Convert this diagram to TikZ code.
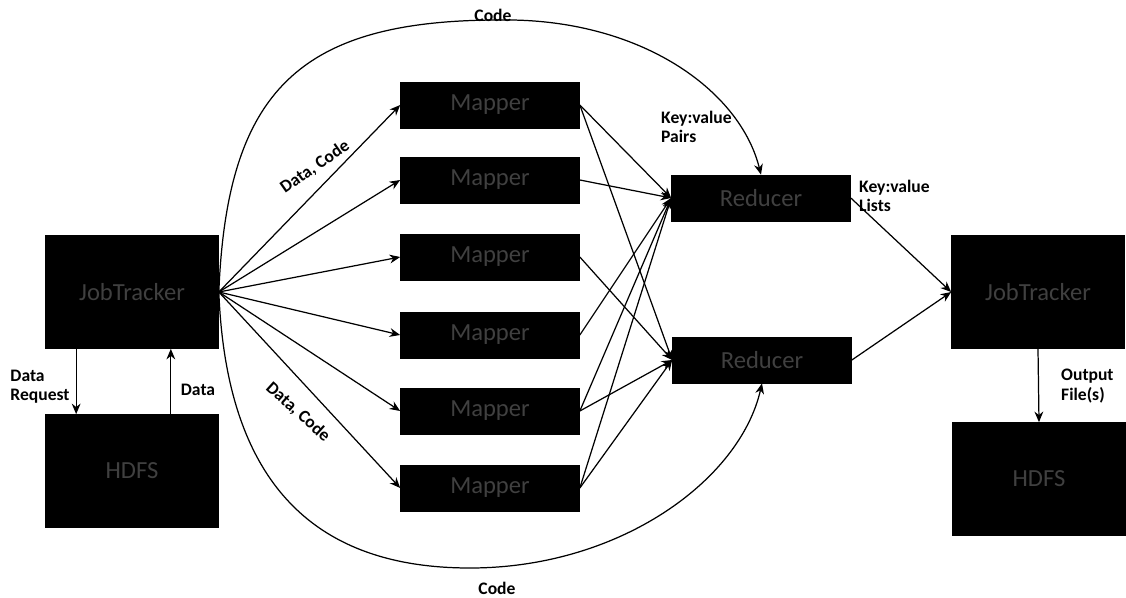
\documentclass[tikz,border=0pt]{standalone}
\usepackage{fontspec}
\setmainfont{Carlito}
\usetikzlibrary{arrows.meta}

\begin{document}
\begin{tikzpicture}[x=0.02cm, y=-0.02cm,
  every node/.style = {font=\bfseries\fontsize{10}{11}\selectfont, align=left},
  block/.style = {rectangle, fill=black, draw=black, text=black!75,
    font=\fontsize{14}{16}\selectfont, align=center},
  bigbox/.style = {block, minimum width=3.46cm, minimum height=2.26cm},
  mapbox/.style = {block, minimum width=3.58cm, minimum height=0.92cm},
  flow/.style = {-{Stealth[length=6pt,width=5pt]}, line width=0.7pt}]
  \useasboundingbox (0,0) rectangle (1126,598);

  \node[bigbox] (jt1) at (132,292) {JobTracker};
  \node[bigbox] (hdfsa) at (132,471) {HDFS};
  \node[bigbox] (jt2) at (1038,292) {JobTracker};
  \node[bigbox] (hdfsb) at (1039,479) {HDFS};
  \foreach \y [count=\i] in {105,180,257,335,411,488}
    \node[mapbox] (m\i) at (490,\y) {Mapper};
  \node[mapbox] (r1) at (761,198) {Reducer};
  \node[mapbox] (r2) at (762,360) {Reducer};

  \draw[flow] ([xshift=0.62cm]jt1.south west) -- ([xshift=0.62cm]hdfsa.north west);
  \draw[flow] ([xshift=-0.96cm]hdfsa.north east) -- ([xshift=-0.96cm]jt1.south east);
  \node at (40,387) {Data\\Request};
  \node at (198,390) {Data};

  \foreach \i in {1,...,6}
    \draw[flow] (jt1.east) -- (m\i.west);
  \node[rotate=35] at (315,167) {Data, Code};
  \node[rotate=-42] at (298,412) {Data, Code};

  \foreach \a/\b in {1/1,1/2,2/1,3/2,4/1,5/1,5/2,6/1,6/2}
    \draw[flow] (m\a.east) -- (r\b.west);
  \node[anchor=west] at (655,127) {Key:value\\Pairs};

  \draw[flow] (jt1.east) .. controls (227,90) and (300,20) .. (500,20)
    .. controls (640,18) and (740,90) .. (r1.north);
  \draw[flow] (jt1.east) .. controls (227,500) and (330,568) .. (470,568)
    .. controls (620,568) and (740,480) .. (r2.south);
  \node at (493,15) {Code};
  \node at (497,588) {Code};

  \draw[flow] (r1.east) -- (jt2.west);
  \draw[flow] (r2.east) -- (jt2.west);
  \node[anchor=west] at (853,196) {Key:value\\Lists};

  \draw[flow] (jt2.south) -- (hdfsb.north);
  \node[anchor=west] at (1055,386) {Output\\File(s)};
\end{tikzpicture}
\end{document}
